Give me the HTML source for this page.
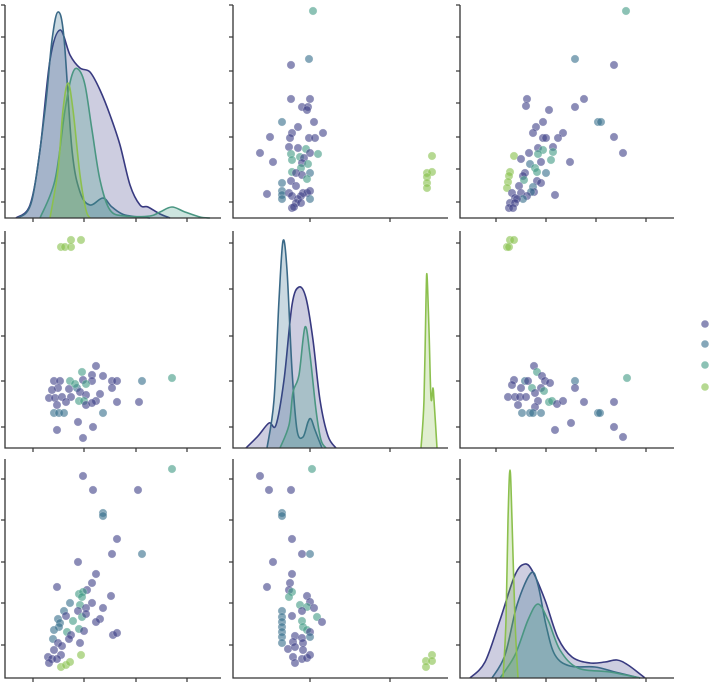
<!DOCTYPE html>
<html><head><meta charset="utf-8"><style>
html,body{margin:0;padding:0;background:#fff;}
svg{display:block;}
</style></head><body>
<svg id="s" width="710" height="684" viewBox="0 0 710 684" xmlns="http://www.w3.org/2000/svg"></svg>
<script>
const S=document.getElementById('s');const NS='http://www.w3.org/2000/svg';
function el(t,a){const e=document.createElementNS(NS,t);for(const k in a)e.setAttribute(k,a[k]);S.appendChild(e);return e;}
const C={P:'#3e3f87',B:'#336d8a',G:'#3f9a83',L:'#86bf4a'};
const SC={P:'#383a80',B:'#3a6987',G:'#4a9682',L:'#8cc04e'};
function smooth(p){let d='M'+p[0][0]+','+p[0][1];for(let i=0;i<p.length-1;i++){const p0=p[i-1]||p[i],p1=p[i],p2=p[i+1],p3=p[i+2]||p2;
const c1=[p1[0]+(p2[0]-p0[0])/6,p1[1]+(p2[1]-p0[1])/6],c2=[p2[0]-(p3[0]-p1[0])/6,p2[1]-(p3[1]-p1[1])/6];
d+=' C'+c1[0].toFixed(1)+','+c1[1].toFixed(1)+' '+c2[0].toFixed(1)+','+c2[1].toFixed(1)+' '+p2[0]+','+p2[1];}return d;}
function kde(c,p,base){const d=smooth(p);el('path',{d:d+' L'+p[p.length-1][0]+','+base+' L'+p[0][0]+','+base+'Z',fill:C[c],'fill-opacity':0.26,stroke:'none'});
el('path',{d:d,fill:'none',stroke:SC[c],'stroke-width':1.6});}
function pts(list){list.forEach(q=>el('circle',{cx:q[1],cy:q[2],r:4.1,fill:C[q[0]],'fill-opacity':0.6,stroke:'#fff','stroke-width':0.4,'stroke-opacity':0.6}));}
function P(s){return s.trim().split(/\s+/).map(t=>{const a=t.split(',');return [a[0],+a[1],+a[2]];});}
const cols=[[5,221],[233,448],[460,674]],rows=[[5,218],[231,448],[459,678]];
const xt=[[33,84,136,187],[310,390],[496,546,596,646]];
const yt=[[5,37,71,103,137,169,202],[243,289,336,381,427],[479,520,562,603,645]];
kde('P',[[16,218],[30,205],[40,150],[50,60],[60,30],[70,55],[80,68],[90,72],[100,90],[110,115],[120,145],[130,185],[140,205],[148,207],[160,214],[170,218]],218);
kde('B',[[18,218],[32,200],[45,110],[52,40],[58,12],[64,38],[72,150],[80,192],[90,205],[103,198],[112,207],[125,215],[150,218]],218);
kde('G',[[40,218],[55,180],[65,110],[72,75],[78,69],[85,85],[92,130],[100,180],[110,210],[125,216],[150,216],[160,212],[172,207],[185,212],[200,217],[210,218]],218);
kde('L',[[50,218],[58,170],[63,110],[68,83],[73,110],[80,175],[86,210],[90,218]],218);
kde('P',[[246,448],[258,436],[269,423],[276,425],[284,380],[292,305],[299,287],[306,298],[313,340],[320,400],[328,436],[336,448]],448);
kde('B',[[267,448],[274,400],[279,300],[283,241],[287,270],[292,370],[297,430],[303,437],[308,422],[311,419],[315,430],[322,448]],448);
kde('G',[[280,448],[289,425],[293,392],[299,375],[305,327],[310,355],[316,410],[321,440],[326,448]],448);
kde('L',[[421,448],[424,400],[426,300],[427,275],[429,330],[431,398],[433,388],[434,400],[437,448]],448);
kde('P',[[470,678],[485,662],[500,620],[515,575],[525,564],[533,572],[545,600],[558,638],[572,657],[590,663],[605,662],[617,660],[628,665],[645,678]],678);
kde('B',[[492,678],[505,655],[517,605],[531,573],[538,585],[546,625],[555,655],[570,666],[595,667],[615,672],[640,678]],678);
kde('G',[[500,678],[515,655],[528,620],[538,604],[548,620],[560,650],[578,668],[610,672],[640,678]],678);
kde('L',[[503,678],[506,620],[508,520],[510,470],[512,520],[515,620],[518,678]],678);
pts(P(`G,313,11 B,309,59 P,291,65 P,291,99 P,310,99 P,302,107 P,308,107 P,307,110 B,282,122 P,314,122 P,298,127 P,292,133 P,323,133 P,270,137 P,290,138 P,309,138 P,315,138 P,289,147 P,298,148 G,306,149 P,260,153 G,291,154 P,310,153 G,318,154 G,300,157 P,304,158 G,292,160 P,273,162 P,302,163 G,308,164 G,301,168 G,292,172 P,296,173 B,310,173 P,302,175 G,307,179 P,291,181 B,282,183 P,296,186 B,282,191 P,267,194 B,282,195 P,289,193 P,303,193 P,307,193 P,310,191 P,292,196 P,301,196 B,282,199 P,298,199 B,310,199 P,296,203 P,301,203 P,292,208 P,294,207 L,432,156 L,427,173 L,432,172 L,427,177 L,427,183 L,427,188`));
pts(P(`G,626,11 B,575,59 P,614,65 P,527,99 P,584,99 P,526,106 P,575,107 P,549,110 B,598,122 B,601,122 P,543,122 P,536,127 P,533,133 P,563,133 P,543,138 P,546,138 P,558,138 P,614,137 P,553,147 P,538,148 G,543,150 L,514,156 G,553,152 P,529,153 G,538,154 P,623,153 P,521,159 G,551,160 P,541,162 P,570,162 B,530,164 G,535,168 G,537,172 B,546,173 L,510,172 L,509,176 L,508,182 L,507,188 P,525,173 P,523,176 G,524,180 P,537,181 P,541,183 P,519,186 B,533,187 P,534,192 B,531,192 P,512,193 P,521,193 P,527,196 P,555,195 P,515,198 B,523,199 P,517,199 P,510,203 P,515,203 P,509,208 P,513,208`));
pts(P(`L,61,247 L,65,247 L,71,247 L,71,240 L,81,240 P,96,366 G,82,372 P,92,375 P,103,376 P,54,381 P,60,381 G,70,381 P,83,380 P,92,381 P,112,381 P,117,381 B,142,381 G,172,378 P,58,388 P,69,389 B,77,388 G,75,384 G,86,384 P,112,388 P,52,390 P,80,392 P,49,398 P,55,398 P,62,397 P,71,397 P,86,395 P,100,394 P,66,402 G,79,401 G,84,401 P,96,401 P,117,402 P,139,402 P,57,405 P,86,405 P,92,403 B,54,413 B,59,413 B,64,413 B,103,413 P,78,422 P,93,427 P,57,430 P,83,438`));
pts(P(`L,507,247 L,509,247 L,510,240 L,514,240 P,534,366 G,537,372 P,542,376 P,514,380 P,512,385 B,525,381 P,528,381 P,545,381 P,550,383 B,575,381 G,627,378 P,521,388 G,532,388 P,541,388 G,544,391 P,575,388 P,508,397 P,515,397 P,520,397 P,526,397 P,535,393 P,538,401 G,549,402 G,552,401 P,557,404 P,563,401 P,584,402 P,614,402 P,518,405 P,535,407 B,522,413 B,530,413 B,533,413 B,541,413 B,598,413 B,600,413 P,571,423 P,555,430 P,614,427 P,623,437`));
pts(P(`P,83,476 G,172,469 P,93,490 P,138,490 B,103,513 B,103,516 P,117,539 P,112,554 B,142,554 P,78,562 P,96,574 P,92,583 P,57,587 P,87,590 G,79,594 G,83,592 G,82,597 P,111,596 P,92,603 P,103,608 B,70,603 G,80,605 P,86,608 P,78,611 B,64,611 P,66,616 G,82,617 P,86,614 P,100,619 P,96,622 B,58,619 B,60,623 B,59,627 G,73,621 G,67,632 G,79,629 P,84,631 B,54,630 P,113,635 P,117,633 P,71,635 P,69,639 B,53,639 P,58,643 P,80,643 P,62,646 P,54,650 P,61,655 P,48,657 P,52,659 P,57,659 P,49,663 L,61,667 L,66,665 L,70,662 L,81,655`));
pts(P(`P,260,476 G,312,469 P,269,490 P,291,490 B,282,513 B,282,516 P,292,539 P,273,562 P,302,554 B,310,554 P,292,574 P,290,583 P,267,587 P,289,590 G,292,592 G,289,597 P,307,596 P,310,602 G,300,605 G,307,607 P,314,608 B,282,611 P,292,616 P,302,611 G,317,617 P,322,622 B,282,617 B,282,622 B,282,627 G,302,621 G,303,627 G,307,630 P,310,632 B,282,632 B,282,637 P,295,636 P,302,638 B,310,637 B,282,643 P,293,642 P,303,643 P,288,649 P,295,647 P,303,650 P,293,657 P,302,659 P,307,658 P,310,655 P,295,663 L,426,661 L,426,667 L,432,655 L,432,661`));
for(let r=0;r<3;r++)for(let c=0;c<3;c++){const [x0,x1]=cols[c],[y0,y1]=rows[r];
el('path',{d:`M${x0},${y0} L${x0},${y1} L${x1},${y1}`,fill:'none',stroke:'#333','stroke-width':1.3});
xt[c].forEach(x=>el('line',{x1:x,y1:y1,x2:x,y2:y1+4,stroke:'#333','stroke-width':1.2}));
yt[r].forEach(y=>el('line',{x1:x0,y1:y,x2:x0-4,y2:y,stroke:'#333','stroke-width':1.2}));}
[['P',324],['B',344],['G',365],['L',387]].forEach(q=>el('circle',{cx:705,cy:q[1],r:3.8,fill:C[q[0]],'fill-opacity':0.6}));
</script>
</body></html>
